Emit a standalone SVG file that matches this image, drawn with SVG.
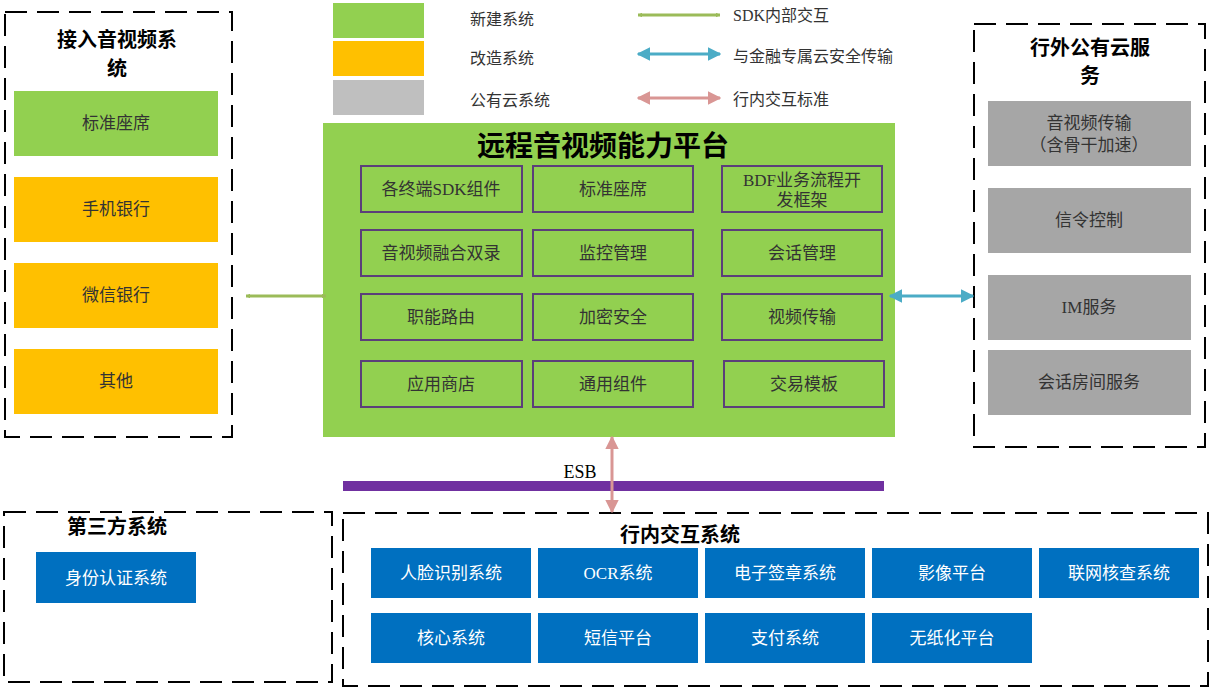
<svg xmlns="http://www.w3.org/2000/svg" width="1212" height="688" viewBox="0 0 1212 688">
<style>
text{font-family:"Liberation Serif","Noto Sans CJK SC",serif;text-anchor:middle;dominant-baseline:central}
.dash{fill:none;stroke:#000;stroke-width:2;stroke-dasharray:22,10}
.t{font-size:20px;font-weight:bold;fill:#000}
.g{fill:#92d050}.o{fill:#ffc000}.gr{fill:#a6a6a6}.b{fill:#0070c0}
.l{font-size:17px;fill:#333}
.w{font-size:17px;fill:#fff}
.in{fill:none;stroke:#5b3f7a;stroke-width:2}
.lg{font-size:16px;fill:#333;text-anchor:start}
</style>
<defs>
<marker id="ag" viewBox="0 0 10 10" refX="9" refY="5" markerWidth="4.5" markerHeight="4.5" orient="auto-start-reverse" markerUnits="userSpaceOnUse"><path d="M0,0L10,5L0,10z" fill="#9bbb59"/></marker>
<marker id="ab" viewBox="0 0 10 10" refX="9" refY="5" markerWidth="4.5" markerHeight="4.5" orient="auto-start-reverse"><path d="M0,0L10,5L0,10z" fill="#4bacc6"/></marker>
<marker id="ap" viewBox="0 0 10 10" refX="9" refY="5" markerWidth="4.5" markerHeight="4.5" orient="auto-start-reverse"><path d="M0,0L10,5L0,10z" fill="#d99694"/></marker>
</defs>
<rect width="1212" height="688" fill="#fff"/>
<g id="legend">
<rect x="333" y="3" width="91" height="35" class="g"/><rect x="333" y="41" width="91" height="35" class="o"/><rect x="333" y="80" width="91" height="35" fill="#bfbfbf"/>
<text x="470" y="19" class="lg">新建系统</text><text x="470" y="58" class="lg">改造系统</text><text x="470" y="100" class="lg">公有云系统</text>
<text x="733" y="15" class="lg">SDK内部交互</text><text x="733" y="56" class="lg">与金融专属云安全传输</text><text x="733" y="99" class="lg">行内交互标准</text>
</g>
<g id="left">
<rect x="5" y="12" width="227" height="425" class="dash"/>
<text x="117" y="40" class="t">接入音视频系</text><text x="117" y="69" class="t">统</text>
<rect x="14" y="91" width="204" height="65" class="g"/><text x="116" y="123" class="l">标准座席</text>
<rect x="14" y="177" width="204" height="65" class="o"/><text x="116" y="209" class="l">手机银行</text>
<rect x="14" y="263" width="204" height="65" class="o"/><text x="116" y="295" class="l">微信银行</text>
<rect x="14" y="349" width="204" height="65" class="o"/><text x="116" y="381" class="l">其他</text>
</g>
<g id="platform">
<rect x="323" y="123" width="572" height="314" class="g"/>
<text x="603" y="146" font-size="28" font-weight="bold">远程音视频能力平台</text>
<g class="in">
<rect x="361" y="166" width="161" height="46"/><rect x="533" y="166" width="160" height="46"/><rect x="722" y="166" width="160" height="46"/>
<rect x="361" y="230" width="161" height="46"/><rect x="533" y="230" width="160" height="46"/><rect x="722" y="230" width="160" height="46"/>
<rect x="361" y="294" width="161" height="46"/><rect x="533" y="294" width="160" height="46"/><rect x="722" y="294" width="160" height="46"/>
<rect x="361" y="361" width="161" height="46"/><rect x="533" y="361" width="160" height="46"/><rect x="724" y="361" width="160" height="46"/>
</g>
<text x="441" y="189" class="l">各终端SDK组件</text><text x="613" y="189" class="l">标准座席</text>
<text x="802" y="180" class="l">BDF业务流程开</text><text x="802" y="200" class="l">发框架</text>
<text x="441" y="253" class="l">音视频融合双录</text><text x="613" y="253" class="l">监控管理</text><text x="802" y="253" class="l">会话管理</text>
<text x="441" y="317" class="l">职能路由</text><text x="613" y="317" class="l">加密安全</text><text x="802" y="317" class="l">视频传输</text>
<text x="441" y="384" class="l">应用商店</text><text x="613" y="384" class="l">通用组件</text><text x="804" y="384" class="l">交易模板</text>
</g>
<g id="right">
<rect x="974" y="24" width="231" height="423" class="dash"/>
<text x="1090" y="48" class="t">行外公有云服</text><text x="1090" y="76" class="t">务</text>
<rect x="988" y="101" width="203" height="65" class="gr"/><text x="1089" y="123" class="l">音视频传输</text><text x="1089" y="145" class="l">（含骨干加速）</text>
<rect x="988" y="188" width="203" height="65" class="gr"/><text x="1089" y="220" class="l">信令控制</text>
<rect x="988" y="275" width="203" height="65" class="gr"/><text x="1089" y="307" class="l">IM服务</text>
<rect x="988" y="350" width="203" height="65" class="gr"/><text x="1089" y="382" class="l">会话房间服务</text>
</g>
<g id="esb">
<rect x="343" y="481" width="541" height="10" fill="#7030a0"/>
<text x="580" y="472" font-size="18">ESB</text>
</g>
<g id="third">
<rect x="4" y="512" width="328" height="170" class="dash"/>
<text x="117" y="527" class="t">第三方系统</text>
<rect x="36" y="552" width="160" height="51" class="b"/><text x="116" y="578" class="w">身份认证系统</text>
</g>
<g id="internal">
<rect x="343" y="513" width="865" height="173" class="dash"/>
<text x="680" y="535" class="t">行内交互系统</text>
<rect x="371" y="548" width="160" height="50" class="b"/><text x="451" y="573" class="w">人脸识别系统</text>
<rect x="538" y="548" width="160" height="50" class="b"/><text x="618" y="573" class="w">OCR系统</text>
<rect x="705" y="548" width="160" height="50" class="b"/><text x="785" y="573" class="w">电子签章系统</text>
<rect x="872" y="548" width="160" height="50" class="b"/><text x="952" y="573" class="w">影像平台</text>
<rect x="1039" y="548" width="160" height="50" class="b"/><text x="1119" y="573" class="w">联网核查系统</text>
<rect x="371" y="613" width="160" height="50" class="b"/><text x="451" y="638" class="w">核心系统</text>
<rect x="538" y="613" width="160" height="50" class="b"/><text x="618" y="638" class="w">短信平台</text>
<rect x="705" y="613" width="160" height="50" class="b"/><text x="785" y="638" class="w">支付系统</text>
<rect x="872" y="613" width="160" height="50" class="b"/><text x="952" y="638" class="w">无纸化平台</text>
</g>
<g id="connectors" stroke-width="3">
<line x1="638" y1="15" x2="720" y2="15" stroke="#9bbb59" marker-start="url(#ag)" marker-end="url(#ag)"/>
<line x1="638" y1="54" x2="720" y2="54" stroke="#4bacc6" marker-start="url(#ab)" marker-end="url(#ab)"/>
<line x1="638" y1="98" x2="720" y2="98" stroke="#d99694" marker-start="url(#ap)" marker-end="url(#ap)"/>
<line x1="246" y1="296" x2="326" y2="296" stroke="#9bbb59" marker-start="url(#ag)" marker-end="url(#ag)"/>
<line x1="890" y1="296" x2="973" y2="296" stroke="#4bacc6" marker-start="url(#ab)" marker-end="url(#ab)"/>
<line x1="612" y1="437" x2="612" y2="512" stroke="#d99694" marker-start="url(#ap)" marker-end="url(#ap)"/>
</g>
</svg>
